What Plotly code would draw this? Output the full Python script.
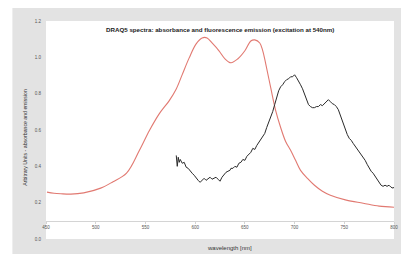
import plotly.graph_objects as go

# Absorbance (red)
abs_nm = [451, 458, 465, 475, 488, 505, 517, 531, 544, 554, 564, 574, 581, 587, 594, 601,
          607, 612, 617, 624, 630, 636, 643, 650, 656, 660, 665, 668, 671, 676, 681, 686,
          691, 696, 701, 706, 713, 720, 728, 736, 752, 769, 785, 800]
abs_val = [0.258, 0.252, 0.249, 0.247, 0.254, 0.280, 0.314, 0.362, 0.488, 0.597, 0.690, 0.762,
           0.826, 0.905, 0.997, 1.074, 1.107, 1.107, 1.079, 1.036, 0.992, 0.970, 0.992, 1.036,
           1.090, 1.096, 1.079, 1.036, 0.964, 0.833, 0.707, 0.614, 0.537, 0.488, 0.433, 0.378,
           0.334, 0.296, 0.263, 0.241, 0.214, 0.197, 0.181, 0.175]

# Emission (black)
em_nm = [581, 582, 583, 584, 585, 587, 589, 591, 593, 595, 597, 599, 601, 603, 605, 607, 609,
         611, 613, 615, 617, 619, 621, 623, 625, 627, 629, 631, 633, 635, 636, 638, 640, 642,
         644, 646, 648, 650, 652, 654, 656, 658, 660, 662, 664, 666, 668, 670, 672, 674, 676,
         678, 680, 682, 684, 686, 688, 690, 692, 694, 696, 698, 700, 702, 704, 706, 708, 710,
         712, 714, 716, 718, 720, 722, 724, 726, 728, 730, 732, 734, 736, 738, 740, 742, 744,
         746, 748, 750, 752, 753, 755, 757, 759, 761, 763, 765, 767, 769, 771, 773, 775, 777,
         779, 781, 783, 785, 787, 789, 791, 793, 795, 797, 799, 800]
em_val = [0.460, 0.400, 0.450, 0.422, 0.438, 0.417, 0.422, 0.395, 0.389, 0.373, 0.362, 0.351,
          0.334, 0.323, 0.312, 0.323, 0.334, 0.323, 0.334, 0.340, 0.329, 0.334, 0.340, 0.329,
          0.318, 0.340, 0.356, 0.367, 0.373, 0.378, 0.389, 0.389, 0.400, 0.395, 0.417, 0.422,
          0.438, 0.433, 0.455, 0.466, 0.477, 0.499, 0.493, 0.515, 0.532, 0.543, 0.559, 0.581,
          0.614, 0.641, 0.669, 0.701, 0.740, 0.784, 0.816, 0.838, 0.849, 0.866, 0.877, 0.882,
          0.893, 0.893, 0.904, 0.888, 0.871, 0.849, 0.827, 0.800, 0.767, 0.740, 0.729, 0.723,
          0.723, 0.729, 0.729, 0.740, 0.734, 0.745, 0.751, 0.767, 0.756, 0.745, 0.740, 0.729,
          0.712, 0.680, 0.647, 0.614, 0.592, 0.575, 0.554, 0.543, 0.526, 0.510, 0.499, 0.482,
          0.466, 0.450, 0.433, 0.411, 0.389, 0.373, 0.362, 0.345, 0.329, 0.312, 0.296, 0.290,
          0.296, 0.290, 0.296, 0.285, 0.280, 0.285]

x_ticks = [450, 500, 550, 600, 650, 700, 750, 800]
y_ticks = [0.0, 0.2, 0.4, 0.6, 0.8, 1.0, 1.2]

title_text = "DRAQ5 spectra: absorbance and fluorescence emission (excitation at 540nm)"
x_title = "wavelength [nm]"
y_title = "Arbitrary Units - absorbance and emission"

# page has an 8px body margin, so the figure sits at (8, 8)
W, H = 401, 246
L, R, T, B = 38, 11, 12, 15
pw, ph = W - L - R, H - T - B
bottom = H - B  # figure pixel row of plot bottom

fig = go.Figure()
fig.add_trace(go.Scatter(x=abs_nm, y=abs_val, mode="lines", line_shape="spline",
                         line=dict(color="rgba(218,88,78,0.8)", width=1.1),
                         showlegend=False))
fig.add_trace(go.Scatter(x=em_nm, y=em_val, mode="lines",
                         line=dict(color="#2a2a2a", width=1),
                         showlegend=False))

gray = "#e3e3e3"
shapes = [
    dict(type="rect", xref="paper", yref="paper", x0=-1, x1=(4 - L) / pw, y0=-1, y1=2,
         fillcolor="white", line_width=0, layer="below"),
]

annotations = [
    dict(text="<b>" + title_text + "</b>", xref="paper", yref="paper", x=0.5,
         y=(bottom - 21) / ph, showarrow=False, xanchor="center", yanchor="middle",
         font=dict(size=6.2, color="#222", family="Liberation Sans")),
    dict(text=x_title, xref="paper", yref="paper", x=(224 - L) / pw, y=(bottom - 240) / ph,
         showarrow=False, xanchor="center", yanchor="middle",
         font=dict(size=6, color="#333", family="Liberation Sans")),
    dict(text=y_title, xref="paper", yref="paper", x=(17 - L) / pw, y=(bottom - 129) / ph,
         showarrow=False, xanchor="center", yanchor="middle", textangle=-90,
         font=dict(size=5.2, color="#333", family="Liberation Sans")),
]

fig.update_layout(
    width=W, height=H,
    margin=dict(l=L, r=R, t=T, b=B, pad=0),
    paper_bgcolor=gray, plot_bgcolor="white",
    shapes=shapes, annotations=annotations,
    font=dict(family="Liberation Sans", color="#555"),
    xaxis=dict(range=[450, 800], tickvals=x_ticks, ticktext=[str(v) for v in x_ticks],
               anchor="free", position=0.1 / 1.2, showline=True, linecolor="#d4d4d4",
               linewidth=1, ticks="outside", ticklen=2, tickcolor="#d4d4d4",
               showgrid=False, zeroline=False, tickfont=dict(size=4.5, color="#555")),
    yaxis=dict(range=[0, 1.2], tickvals=y_ticks, ticktext=["%.1f" % v for v in y_ticks],
               showgrid=False, zeroline=False, showline=False, ticks="outside",
               ticklen=3, tickcolor="rgba(0,0,0,0)", tickfont=dict(size=4.5, color="#555")),
)

fig.write_html("out.html")
